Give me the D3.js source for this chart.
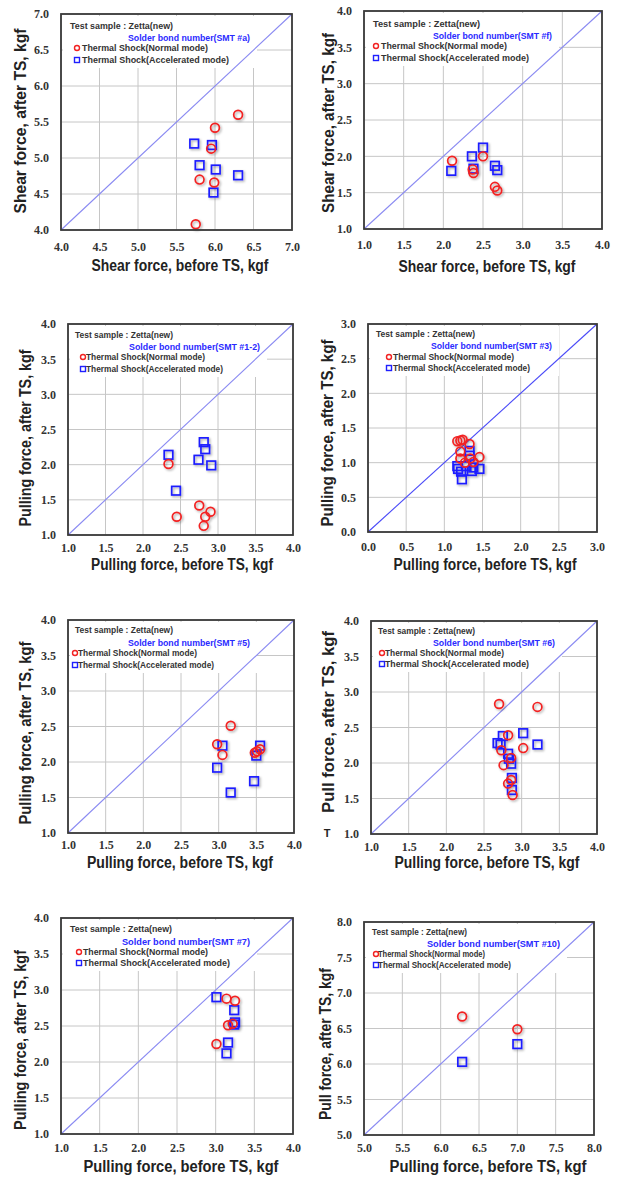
<!DOCTYPE html>
<html><head><meta charset="utf-8">
<script src="https://cdn.jsdelivr.net/npm/d3@7"></script>
<style>body{margin:0;background:#fff}</style>
</head><body>
<svg id="c" width="621" height="1178"></svg>
<script>
// ---------------- DATA ----------------
const panelLabels = ["SMT #a","SMT #f","SMT #1-2","SMT #3","SMT #5","SMT #6","SMT #7","SMT #10"];
const xTitles = ["Shear force, before TS, kgf","Shear force, before TS, kgf","Pulling force, before TS, kgf","Pulling force, before TS, kgf","Pulling force, before TS, kgf","Pulling force, before TS, kgf","Pulling force, before TS, kgf","Pulling force, before TS, kgf"];
const yTitles = ["Shear force, after TS, kgf","Shear force, after TS, kgf","Pulling force, after TS, kgf","Pulling force, after TS, kgf","Pulling force, after TS, kgf","Pull force, after TS, kgf","Pulling force, after TS, kgf","Pull force, after TS, kgf"];
const legendSample = "Test sample : Zetta(new)";
const legendBond = "Solder bond number";
const legendNormal = "Thermal Shock(Normal mode)";
const legendAccel = "Thermal Shock(Accelerated mode)";

const ticks4to7 = [4.0,4.5,5.0,5.5,6.0,6.5,7.0];
const ticks1to4 = [1.0,1.5,2.0,2.5,3.0,3.5,4.0];
const ticks0to3 = [0.0,0.5,1.0,1.5,2.0,2.5,3.0];
const ticks5to8 = [5.0,5.5,6.0,6.5,7.0,7.5,8.0];
const panelTicks = [ticks4to7, ticks1to4, ticks1to4, ticks0to3, ticks1to4, ticks1to4, ticks1to4, ticks5to8];

// [before TS, after TS]
const normalA = [[6.30,5.60],[6.00,5.42],[5.95,5.13],[5.80,4.70],[5.99,4.66],[5.75,4.08]];
const accelA  = [[5.73,5.20],[5.96,5.18],[5.80,4.90],[6.01,4.84],[6.30,4.76],[5.98,4.52]];
const normalF = [[2.11,1.94],[2.50,2.00],[2.37,1.82],[2.38,1.77],[2.65,1.58],[2.68,1.53]];
const accelF  = [[2.10,1.80],[2.36,2.00],[2.38,1.83],[2.50,2.12],[2.65,1.87],[2.68,1.81]];
const normal12 = [[2.34,2.01],[2.45,1.26],[2.75,1.42],[2.90,1.33],[2.83,1.26],[2.81,1.13]];
const accel12  = [[2.34,2.14],[2.44,1.63],[2.81,2.32],[2.83,2.22],[2.74,2.07],[2.91,1.99]];
const normal3 = [[1.17,1.31],[1.21,1.32],[1.24,1.33],[1.33,1.27],[1.21,1.16],[1.21,1.06],[1.34,1.06],[1.46,1.08],[1.27,1.00],[1.38,1.01]];
const accel3  = [[1.33,1.17],[1.33,1.10],[1.17,0.95],[1.18,0.91],[1.22,0.87],[1.23,0.76],[1.29,0.95],[1.36,0.88],[1.38,0.93],[1.46,0.91]];
const normal5 = [[3.16,2.51],[2.98,2.25],[3.05,2.10],[3.48,2.13],[3.51,2.15],[3.55,2.18]];
const accel5  = [[3.05,2.23],[2.98,1.92],[3.16,1.57],[3.47,1.73],[3.50,2.09],[3.55,2.23]];
const normal6 = [[2.70,2.83],[3.21,2.79],[2.82,2.39],[3.02,2.21],[2.73,2.18],[2.76,1.97],[2.86,2.07],[2.82,1.71],[2.86,1.76],[2.88,1.55]];
const accel6  = [[2.75,2.38],[2.68,2.28],[2.72,2.26],[3.02,2.42],[3.21,2.26],[2.82,2.13],[2.83,2.06],[2.86,1.99],[2.87,1.79],[2.87,1.62]];
const normal7 = [[3.14,2.88],[3.25,2.85],[3.16,2.51],[3.22,2.53],[3.01,2.25]];
const accel7  = [[3.01,2.90],[3.24,2.72],[3.25,2.55],[3.24,2.52],[3.16,2.27],[3.14,2.12]];
const normal10 = [[6.28,6.67],[7.00,6.49]];
const accel10  = [[6.28,6.03],[7.00,6.28]];
const normalSeries = [normalA, normalF, normal12, normal3, normal5, normal6, normal7, normal10];
const accelSeries  = [accelA, accelF, accel12, accel3, accel5, accel6, accel7, accel10];

// ---------------- LAYOUT ----------------
const layouts = [
 {l:61, t:14, r:292,b:230, xg:16.7, xtc:180, xtb:41, xtl:177, ytx:20, ytc:121, ytl:185, diag:"#8a8af2",
  lg:{tx:9, sx:67, mx:16, nx:21, rows:[12,23,34,46], w:[103,122,126,147]}},
 {l:364,t:11, r:602,b:229, xg:16, xtc:487, xtb:43, xtl:177, ytx:328, ytc:123, ytl:180, diag:"#8a8af2",
  lg:{tx:9, sx:69, mx:12, nx:17, rows:[13,24,35,47], w:[107,119,126,148]}},
 {l:68, t:324,r:293,b:535, xg:13, xtc:182, xtb:35, xtl:182, ytx:25, ytc:438, ytl:177, diag:"#8a8af2",
  lg:{tx:7, sx:61, mx:15, nx:18, rows:[11,22,33,45], w:[98,131,119,137]}},
 {l:368,t:324,r:597,b:532, xg:15, xtc:485, xtb:38, xtl:183, ytx:327, ytc:433, ytl:187, diag:"#4a4af8",
  lg:{tx:8, sx:63, mx:21, nx:25, rows:[10,21,33,44], w:[99,121,121,137]}},
 {l:68, t:620,r:294,b:833, xg:11.5, xtc:180, xtb:35, xtl:186, ytx:25, ytc:733, ytl:183, diag:"#8a8af2",
  lg:{tx:7, sx:60, mx:7, nx:10, rows:[10,22,33,45], w:[98,122,119,136]}},
 {l:371,t:621,r:597,b:834, xg:12.7, xtc:487, xtb:34, xtl:185, ytx:328, ytc:722, ytl:182, diag:"#8a8af2",
  lg:{tx:7, sx:62, mx:11, nx:14, rows:[10,21,32,43], w:[97,122,119,144]}},
 {l:61, t:918,r:293,b:1134, xg:14, xtc:181, xtb:38, xtl:195, ytx:20, ytc:1040, ytl:180, diag:"#8a8af2",
  lg:{tx:9, sx:61, mx:18, nx:22, rows:[11,23,34,45], w:[102,128,125,147]}},
 {l:364,t:922,r:594,b:1135, xg:13.3, xtc:488, xtb:37, xtl:197, ytx:325, ytc:1044, ytl:152, diag:"#8a8af2",
  lg:{tx:8, sx:63, mx:12, nx:14, rows:[10,21,32,43], w:[95,133,107,133]}}
];

const svg = d3.select("#c");
svg.append("rect").attr("width",621).attr("height",1178).attr("fill","#fff");
const defs = svg.append("defs");
const f = defs.append("filter").attr("id","sh").attr("x","-50%").attr("y","-50%").attr("width","200%").attr("height","200%");
f.append("feDropShadow").attr("dx",1.3).attr("dy",1.3).attr("stdDeviation",0.9).attr("flood-color","#000").attr("flood-opacity",0.35);

const titleFont = "'Liberation Sans',Arial,sans-serif";
const tickFont = "'Liberation Serif','DejaVu Serif',serif";
const lf = "'Liberation Sans',Arial,sans-serif";

layouts.forEach((L, i) => {
  const ticks = panelTicks[i];
  const dom = [ticks[0], ticks[ticks.length-1]];
  const x = d3.scaleLinear().domain(dom).range([L.l, L.r]);
  const y = d3.scaleLinear().domain(dom).range([L.b, L.t]);
  const g = svg.append("g");

  // grid
  g.append("g").selectAll("line").data(ticks).join("line")
    .attr("x1", d => x(d)).attr("x2", d => x(d)).attr("y1", L.t).attr("y2", L.b)
    .attr("stroke","#c6c6c6").attr("stroke-width",1);
  g.append("g").selectAll("line").data(ticks).join("line")
    .attr("y1", d => y(d)).attr("y2", d => y(d)).attr("x1", L.l).attr("x2", L.r)
    .attr("stroke","#c6c6c6").attr("stroke-width",1);

  // legend background
  const lg = L.lg;
  const lw = Math.max(lg.sx + lg.w[1], lg.nx + lg.w[3]) + 5;
  g.append("rect").attr("x", L.l + 2).attr("y", L.t + 2).attr("width", lw).attr("height", lg.rows[3] + 6)
    .attr("fill","#fff");

  // diagonal
  g.append("line").attr("x1", x(dom[0])).attr("y1", y(dom[0])).attr("x2", x(dom[1])).attr("y2", y(dom[1]))
    .attr("stroke", L.diag).attr("stroke-width",1.1);

  // axes
  const ax = g.append("g").attr("transform", `translate(0,${L.b})`)
    .call(d3.axisBottom(x).tickValues(ticks).tickFormat(d3.format(".1f")).tickSize(0).tickPadding(L.xg - 4.5));
  const ay = g.append("g").attr("transform", `translate(${L.l},0)`)
    .call(d3.axisLeft(y).tickValues(ticks).tickFormat(d3.format(".1f")).tickSize(0).tickPadding(12));
  [ax, ay].forEach(a => {
    a.select(".domain").remove();
    a.selectAll("text").attr("font-family", tickFont).attr("font-weight","bold")
      .attr("font-size", 12).attr("fill","#333");
  });

  // data marks
  const marks = g.append("g").attr("filter","url(#sh)");
  marks.selectAll("rect").data(accelSeries[i]).join("rect")
    .attr("x", d => x(d[0]) - 4.3).attr("y", d => y(d[1]) - 4.3)
    .attr("width", 8.6).attr("height", 8.6)
    .attr("fill","none").attr("stroke","#1f1fff").attr("stroke-width",1.7);
  marks.selectAll("circle").data(normalSeries[i]).join("circle")
    .attr("cx", d => x(d[0])).attr("cy", d => y(d[1])).attr("r", 4.4)
    .attr("fill","none").attr("stroke","#f22222").attr("stroke-width",1.7);

  // border
  g.append("rect").attr("x", L.l).attr("y", L.t).attr("width", L.r - L.l).attr("height", L.b - L.t)
    .attr("fill","none").attr("stroke","#3a3a3a").attr("stroke-width",1.8);

  // legend
  g.append("text").attr("x", L.l + lg.tx).attr("y", L.t + lg.rows[0]).attr("dominant-baseline","central")
    .attr("font-family", lf).attr("font-weight","bold").attr("font-size", 9).attr("fill","#333")
    .attr("textLength", lg.w[0]).attr("lengthAdjust","spacingAndGlyphs").text(legendSample);
  g.append("text").attr("x", L.l + lg.sx).attr("y", L.t + lg.rows[1]).attr("dominant-baseline","central")
    .attr("font-family", lf).attr("font-weight","bold").attr("font-size", 9.5).attr("fill","#2a2aff")
    .attr("textLength", lg.w[1]).attr("lengthAdjust","spacingAndGlyphs").text(`${legendBond}(${panelLabels[i]})`);
  g.append("circle").attr("cx", L.l + lg.mx).attr("cy", L.t + lg.rows[2]).attr("r", 2.5)
    .attr("fill","none").attr("stroke","#f22222").attr("stroke-width",1.4);
  g.append("text").attr("x", L.l + lg.nx).attr("y", L.t + lg.rows[2]).attr("dominant-baseline","central")
    .attr("font-family", lf).attr("font-weight","bold").attr("font-size", 9).attr("fill","#333")
    .attr("textLength", lg.w[2]).attr("lengthAdjust","spacingAndGlyphs").text(legendNormal);
  g.append("rect").attr("x", L.l + lg.mx - 2.5).attr("y", L.t + lg.rows[3] - 2.5).attr("width",5).attr("height",5)
    .attr("fill","none").attr("stroke","#1f1fff").attr("stroke-width",1.4);
  g.append("text").attr("x", L.l + lg.nx).attr("y", L.t + lg.rows[3]).attr("dominant-baseline","central")
    .attr("font-family", lf).attr("font-weight","bold").attr("font-size", 9).attr("fill","#333")
    .attr("textLength", lg.w[3]).attr("lengthAdjust","spacingAndGlyphs").text(legendAccel);

  // axis titles
  g.append("text").attr("x", L.xtc).attr("y", L.b + L.xtb).attr("text-anchor","middle")
    .attr("font-family", titleFont).attr("font-weight","bold").attr("font-size", 16).attr("fill","#222")
    .attr("textLength", L.xtl).attr("lengthAdjust","spacingAndGlyphs").text(xTitles[i]);
  g.append("text").attr("transform", `translate(${L.ytx},${L.ytc}) rotate(-90)`)
    .attr("text-anchor","middle").attr("dominant-baseline","central")
    .attr("font-family", titleFont).attr("font-weight","bold").attr("font-size", 16).attr("fill","#222")
    .attr("textLength", L.ytl).attr("lengthAdjust","spacingAndGlyphs").text(yTitles[i]);
});

// stray glyph near the SMT #6 y-axis title
svg.append("text").attr("x", 327).attr("y", 837).attr("text-anchor","middle")
  .attr("font-family", titleFont).attr("font-weight","bold").attr("font-size", 11).attr("fill","#222").text("T");
</script>
</body></html>
